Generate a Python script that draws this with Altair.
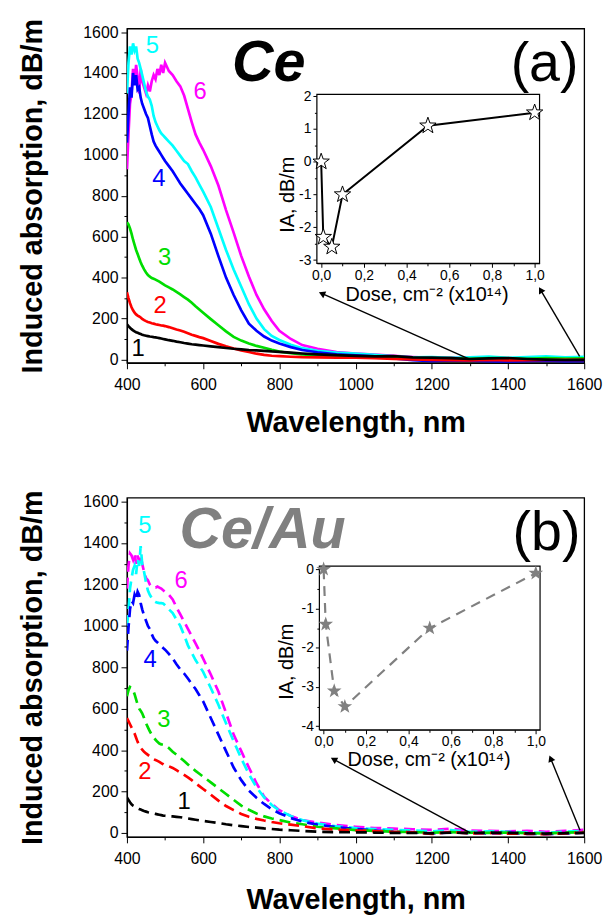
import math
import altair as alt
import pandas as pd

# ---------------- data ----------------
WL = [400, 404, 408, 412, 416, 420, 424, 428, 432, 436, 440,
      445, 450, 455, 460, 465, 470, 475, 480, 485, 490, 495, 500,
      510, 520, 530, 540, 550, 560, 570, 580, 590, 600,
      620, 640, 660, 680, 700, 720, 740, 760, 780, 800,
      830, 860, 900, 950,
      1000, 1050, 1100, 1150, 1200, 1250, 1300, 1350, 1400, 1450, 1500, 1550, 1600]

TOP_1 = [172, 163, 155, 148, 142, 137, 133, 130, 127, 124, 121,
         118, 116, 114, 112, 111, 109, 108, 106, 104, 102, 100, 98,
         94, 91, 87, 84, 80, 77, 74, 72, 70, 68,
         64, 60, 56, 52, 49, 46, 44, 42, 39, 37,
         33, 29, 25, 21,
         17, 15, 16, 10, 9, 6, 2, 5, 7, 2, -1, -3, -2]
TOP_2 = [328, 300, 275, 255, 240, 228, 220, 214, 210, 205, 198,
         192, 187, 183, 180, 177, 175, 172, 170, 168, 166, 165, 163,
         158, 152, 146, 141, 135, 128, 121, 115, 109, 104,
         90, 76, 64, 53, 44, 36, 28, 22, 18, 16,
         13, 11, 10, 9,
         8, 6, 3, 0, -3, -4, -5, -3, -5, -4, -3, -2, -2]
TOP_3 = [670, 660, 640, 615, 585, 560, 535, 515, 495, 475, 458,
         440, 425, 412, 405, 398, 394, 390, 385, 380, 374, 368, 362,
         352, 342, 330, 318, 305, 292, 277, 260, 244, 228,
         197, 167, 137, 110, 92, 78, 66, 57, 47, 38,
         30, 25, 20, 15,
         12, 9, 7, 5, 4, 6, 3, 7, 5, 3, 6, 4, 5]
TOP_4 = [1060, 1200, 1330, 1280, 1400, 1340, 1390, 1320, 1330, 1280, 1250,
         1225, 1200, 1180, 1140, 1100, 1065, 1045, 1030, 1015, 1000, 985, 970,
         945, 920, 890, 860, 835, 810, 785, 760, 735, 705,
         615, 505, 400, 315, 240, 175, 140, 112, 92, 78,
         60, 46, 35, 25,
         20, 15, 5, -4, -8, -5, -6, -10, -12, -8, -6, -10, -8]
TOP_5 = [1300, 1450, 1530, 1490, 1545, 1510, 1530, 1470, 1450, 1420, 1390,
         1350, 1310, 1285, 1270, 1240, 1190, 1160, 1140, 1120, 1105, 1095, 1085,
         1065, 1045, 1020, 995, 970, 955, 920, 890, 855, 820,
         745, 640, 535, 440, 355, 270, 200, 148, 115, 95,
         72, 55, 42, 33,
         28, 22, 15, 10, 12, 8, 10, 14, 8, 12, 15, 10, 13]
TOP_6 = [930, 1100, 1250, 1300, 1420, 1350, 1440, 1380, 1300, 1420, 1360,
         1330, 1300, 1340, 1310, 1360, 1390, 1370, 1420, 1390, 1440, 1400, 1450,
         1410, 1390, 1360, 1335, 1290, 1225, 1160, 1100, 1060, 1025,
         945, 850, 730, 620, 505, 405, 315, 245, 188, 140,
         100, 70, 52, 36,
         29, 24, 18, 12, 8, 9, 6, 8, 5, 4, 6, 8, 5]

BOT_1 = [172, 160, 148, 138, 132, 128, 124, 120, 116, 113, 110,
         106, 103, 100, 98, 96, 94, 92, 90, 88, 86, 84, 83,
         81, 80, 78, 76, 73, 70, 67, 64, 61, 58,
         53, 48, 42, 37, 33, 29, 26, 22, 19, 16,
         13, 10, 6, 4,
         3, 2, 0, 1, -2, 2, -1, 2, 0, -2, -3, -1, 0]
BOT_2 = [555, 540, 525, 510, 495, 480, 460, 440, 422, 412, 402,
         392, 384, 377, 370, 362, 356, 352, 348, 343, 337, 332, 326,
         322, 314, 303, 292, 280, 268, 255, 240, 226, 212,
         185, 156, 130, 110, 92, 78, 68, 60, 53, 47,
         40, 33, 22, 16,
         12, 9, 5, 3, -5, 5, -2, 0, -3, -4, -6, -2, 2]
BOT_3 = [660, 690, 705, 700, 690, 670, 645, 620, 600, 590, 578,
         555, 530, 510, 491, 475, 462, 450, 440, 432, 428, 427, 425,
         410, 392, 378, 363, 347, 331, 315, 300, 286, 272,
         244, 216, 188, 160, 132, 112, 94, 80, 70, 62,
         50, 42, 30, 22,
         14, 10, 6, 4, 1, 4, 2, 0, 2, -1, -3, 2, 4]
BOT_4 = [880, 990, 1080, 1120, 1110, 1150, 1130, 1165, 1150, 1110, 1080,
         1050, 1025, 1000, 985, 960, 940, 928, 920, 912, 902, 893, 885,
         865, 842, 815, 790, 770, 746, 720, 695, 665, 635,
         555, 475, 395, 316, 255, 205, 170, 140, 115, 95,
         72, 55, 40, 28,
         20, 12, 6, 3, -2, 3, 0, -3, 2, -4, -6, -2, 1]
BOT_5 = [1000, 1070, 1180, 1230, 1270, 1290, 1250, 1320, 1290, 1385, 1300,
         1260, 1210, 1170, 1150, 1135, 1120, 1115, 1112, 1110, 1110, 1108, 1100,
         1080, 1062, 1030, 1000, 955, 906, 870, 835, 806, 778,
         700, 619, 530, 443, 360, 284, 220, 172, 135, 108,
         82, 62, 45, 32,
         24, 19, 15, 12, 8, 14, 5, 8, 6, 2, 0, 6, 10]
BOT_6 = [1180, 1290, 1350, 1340, 1320, 1350, 1300, 1340, 1310, 1340, 1300,
         1260, 1230, 1220, 1200, 1190, 1185, 1185, 1190, 1185, 1180, 1172, 1165,
         1150, 1128, 1090, 1055, 1020, 986, 950, 915, 880, 842,
         765, 683, 580, 475, 395, 316, 240, 175, 140, 110,
         82, 62, 50, 38,
         30, 24, 21, 18, 15, 20, 12, 10, 8, 10, 6, 10, 15]

SERIES = ["1", "2", "3", "4", "5", "6"]
COLORS = ["#000000", "#ff0000", "#00dd00", "#0000ff", "#00ffff", "#ff00ff"]

TOP_LABEL_WL = [429, 487, 499, 484, 467, 592]
TOP_LABEL_V = [53, 262, 495, 884, 1534, 1306]
BOT_LABEL_WL = [550, 447, 497, 461, 447, 542]
BOT_LABEL_V = [148, 292, 547, 834, 1481, 1217]

DOSE = [0.0, 0.01, 0.05, 0.1, 0.5, 1.0]
IA_CE = [0.0, -2.3, -2.6, -1.0, 1.1, 1.5]
IA_CEAU = [0.0, -1.4, -3.1, -3.5, -1.5, -0.1]

TOP_ARROW_FROM_WL = [1300, 1588]
TOP_ARROW_FROM_V = [0, 15]
TOP_ARROW_TO_WL = [914, 1487]
TOP_ARROW_TO_V = [320, 335]
BOT_ARROW_FROM_WL = [1301, 1589]
BOT_ARROW_FROM_V = [0, 13]
BOT_ARROW_TO_WL = [945, 1513]
BOT_ARROW_TO_V = [353, 355]

FONT = "Liberation Sans"
W = 461


def star_path():
    pts = []
    for k in range(10):
        r = 1.0 if k % 2 == 0 else 0.40
        a = -math.pi / 2 + k * math.pi / 5
        pts.append(f"{r * math.cos(a):.3f},{r * math.sin(a):.3f}")
    return "M" + "L".join(pts) + "Z"


STAR = star_path()


def build_panel(series_vals, lab_wl, lab_v, title_txt, title_color, title_pos,
                letter, letter_pos, arrows, ia, H, ydom, dashed,
                ix_range, iy_range, ix_dom, iy_dom, iy_vals, iy_minor,
                star_filled, xt_pos, yt_pos, x_title_pad):
    rows = []
    for sid in ["6", "5", "4", "3", "2", "1"]:
        for w, v in zip(WL, series_vals[sid]):
            rows.append({"wl": w, "val": v, "s": sid})
    df = pd.DataFrame(rows)

    xs = alt.Scale(domain=[400, 1600], nice=False, zero=False)
    ys = alt.Scale(domain=ydom, nice=False, zero=False)

    x_axis = alt.Axis(orient="bottom", values=list(range(400, 1601, 200)), format="d",
                      labelFontSize=16, labelFont=FONT, labelColor="black", labelFlush=False,
                      tickSize=6, tickColor="black", domainColor="black", domainWidth=1.2,
                      labelPadding=8, grid=False, title="Wavelength, nm", titleFont=FONT,
                      titleFontSize=29, titleFontWeight="bold", titleColor="black",
                      titlePadding=x_title_pad)
    y_axis = alt.Axis(orient="left", values=list(range(0, 1601, 200)), format="d",
                      labelFontSize=16, labelFont=FONT, labelColor="black",
                      tickSize=6, tickColor="black", domainColor="black", domainWidth=1.2,
                      labelPadding=3, grid=False, title="Induced absorption, dB/m", titleFont=FONT,
                      titleFontSize=29, titleFontWeight="bold", titleColor="black", titlePadding=36)

    line_kw = dict(strokeWidth=2.7, clip=True)
    if dashed:
        line_kw["strokeDash"] = [11, 6]
    lines = alt.Chart(df).mark_line(**line_kw).encode(
        x=alt.X("wl:Q", scale=xs, axis=x_axis),
        y=alt.Y("val:Q", scale=ys, axis=y_axis),
        color=alt.Color("s:N", scale=alt.Scale(domain=SERIES, range=COLORS), legend=None),
    )

    minor = alt.Chart(pd.DataFrame({"wl": [1000], "val": [800]})).mark_point(opacity=0).encode(
        x=alt.X("wl:Q", scale=xs, axis=alt.Axis(orient="bottom", values=list(range(500, 1600, 200)),
                                                 labels=False, domain=False, tickSize=3, tickColor="black",
                                                 title=None, grid=False)),
        y=alt.Y("val:Q", scale=ys, axis=alt.Axis(orient="left", values=list(range(100, 1600, 200)),
                                                  labels=False, domain=False, tickSize=3, tickColor="black",
                                                  title=None, grid=False)),
    )

    lab_df = pd.DataFrame({"wl": lab_wl, "val": lab_v, "txt": SERIES, "col": COLORS})
    labels = alt.Chart(lab_df).mark_text(font=FONT, fontSize=24, align="center", baseline="middle").encode(
        x=alt.X("wl:Q", scale=xs, axis=None),
        y=alt.Y("val:Q", scale=ys, axis=None),
        text="txt:N",
        color=alt.Color("col:N", scale=None),
    )

    t_df = pd.DataFrame({"wl": [title_pos[0]], "val": [title_pos[1]], "txt": [title_txt]})
    ttl = alt.Chart(t_df).mark_text(font=FONT, fontSize=58, fontWeight="bold", fontStyle="italic",
                                    color=title_color, align="center", baseline="middle").encode(
        x=alt.X("wl:Q", scale=xs, axis=None), y=alt.Y("val:Q", scale=ys, axis=None), text="txt:N")

    l_df = pd.DataFrame({"wl": [letter_pos[0]], "val": [letter_pos[1]], "txt": [letter]})
    let = alt.Chart(l_df).mark_text(font=FONT, fontSize=56, color="black",
                                    align="center", baseline="middle").encode(
        x=alt.X("wl:Q", scale=xs, axis=None), y=alt.Y("val:Q", scale=ys, axis=None), text="txt:N")

    fw, fv, tw, tv = arrows
    sx = W / 1200.0
    sy = H / (ydom[1] - ydom[0])
    angs = []
    for a, b, c, d in zip(fw, fv, tw, tv):
        dx = (c - a) * sx
        dy = -(d - b) * sy
        angs.append(math.degrees(math.atan2(dx, -dy)) % 360)
    a_df = pd.DataFrame({"w0": fw, "v0": fv, "w1": tw, "v1": tv, "ang": angs})
    rules = alt.Chart(a_df).mark_rule(color="black", strokeWidth=1.4).encode(
        x=alt.X("w0:Q", scale=xs, axis=None), y=alt.Y("v0:Q", scale=ys, axis=None),
        x2="w1:Q", y2="v1:Q")
    heads = alt.Chart(a_df).mark_point(shape="triangle", filled=True, color="black", size=55, opacity=1).encode(
        x=alt.X("w1:Q", scale=xs, axis=None), y=alt.Y("v1:Q", scale=ys, axis=None),
        angle=alt.Angle("ang:Q", scale=None))

    # inset
    ixs = alt.Scale(domain=ix_dom, range=ix_range, nice=False, zero=False)
    iys = alt.Scale(domain=iy_dom, range=iy_range, nice=False, zero=False)
    x_off = iy_range[0] - H
    y_off = -ix_range[0]

    frame_df = pd.DataFrame({"x0": [ix_dom[0]], "x1": [ix_dom[1]], "y0": [iy_dom[0]], "y1": [iy_dom[1]]})
    frame = alt.Chart(frame_df).mark_rect(fill="white", stroke="black", strokeWidth=1.2).encode(
        x=alt.X("x0:Q", scale=ixs, axis=None), x2="x1:Q",
        y=alt.Y("y0:Q", scale=iys, axis=None), y2="y1:Q")

    ins_df = pd.DataFrame({"dose": DOSE, "ia": ia})
    ix_axis = alt.Axis(orient="bottom", offset=x_off, values=[0, 0.2, 0.4, 0.6, 0.8, 1.0],
                       labelExpr="replace(format(datum.value, '.1f'), '.', ',')",
                       labelFontSize=14, labelFont=FONT, labelColor="black", labelFlush=False,
                       labelPadding=1, tickSize=4, tickColor="black", domainColor="black",
                       grid=False, title="Dose, cm\u207b\u00b2 (x10\u00b9\u2074)", titleFont=FONT,
                       titleFontSize=20, titleFontWeight="normal", titleColor="black",
                       titleX=xt_pos[0], titleY=xt_pos[1], titleAlign="center", titleBaseline="middle",
                       titleAngle=0)
    iy_axis = alt.Axis(orient="left", offset=y_off, values=iy_vals, labelExpr="'' + datum.value",
                       labelFontSize=14, labelFont=FONT, labelColor="black",
                       labelPadding=2, tickSize=4, tickColor="black", domainColor="black",
                       grid=False, title="IA, dB/m", titleFont=FONT,
                       titleFontSize=20, titleFontWeight="normal", titleColor="black",
                       titleX=yt_pos[0], titleY=yt_pos[1], titleAlign="center", titleBaseline="middle",
                       titleAngle=270)
    if star_filled:
        iline = alt.Chart(ins_df).mark_line(color="#808080", strokeWidth=2.2, strokeDash=[10, 7])
        istar = alt.Chart(ins_df).mark_point(shape=STAR, filled=True, color="#808080", size=240, opacity=1)
    else:
        iline = alt.Chart(ins_df).mark_line(color="black", strokeWidth=2)
        istar = alt.Chart(ins_df).mark_point(shape=STAR, filled=True, fill="white", stroke="black",
                                             strokeWidth=1, size=300, opacity=1)
    iline = iline.encode(x=alt.X("dose:Q", scale=ixs, axis=ix_axis),
                         y=alt.Y("ia:Q", scale=iys, axis=iy_axis))
    istar = istar.encode(x=alt.X("dose:Q", scale=ixs, axis=None),
                         y=alt.Y("ia:Q", scale=iys, axis=None))

    iminor = alt.Chart(pd.DataFrame({"dose": [0.5], "ia": [iy_vals[0]]})).mark_point(opacity=0).encode(
        x=alt.X("dose:Q", scale=ixs, axis=alt.Axis(orient="bottom", offset=x_off,
                                                   values=[0.1, 0.3, 0.5, 0.7, 0.9], labels=False,
                                                   domain=False, tickSize=2.5, tickColor="black",
                                                   title=None, grid=False)),
        y=alt.Y("ia:Q", scale=iys, axis=alt.Axis(orient="left", offset=y_off, values=iy_minor,
                                                 labels=False, domain=False, tickSize=2.5,
                                                 tickColor="black", title=None, grid=False)),
    )

    return alt.layer(lines, minor, labels, ttl, let, rules, heads, frame, iline, istar, iminor).resolve_scale(
        x="independent", y="independent", color="independent").properties(width=W, height=H)


top = build_panel(
    {"1": TOP_1, "2": TOP_2, "3": TOP_3, "4": TOP_4, "5": TOP_5, "6": TOP_6},
    TOP_LABEL_WL, TOP_LABEL_V, "Ce", "black", (772, 1442), "(a)", (1496, 1442),
    (TOP_ARROW_FROM_WL, TOP_ARROW_FROM_V, TOP_ARROW_TO_WL, TOP_ARROW_TO_V),
    IA_CE, 337, [-16.5, 1617.5], False,
    [191.5, 416], [236.7, 66.3], [-0.02, 1.023], [-3.1, 2.06],
    [-3, -2, -1, 0, 1, 2], [-2.5, -1.5, -0.5, 0.5, 1.5],
    False, (302, 32), (-30, 167), 16)

bot = build_panel(
    {"1": BOT_1, "2": BOT_2, "3": BOT_3, "4": BOT_4, "5": BOT_5, "6": BOT_6},
    BOT_LABEL_WL, BOT_LABEL_V, "Ce/Au", "#808080", (756, 1456), "(b)", (1501, 1450),
    (BOT_ARROW_FROM_WL, BOT_ARROW_FROM_V, BOT_ARROW_TO_WL, BOT_ARROW_TO_V),
    IA_CEAU, 342, [-19, 1619], True,
    [194, 416.5], [234, 69], [-0.02, 1.02], [-4.09, 0.08],
    [-4, -3, -2, -1, 0], [-3.5, -2.5, -1.5, -0.5],
    True, (304, 30), (-33, 165), 19)

chart = alt.vconcat(top, bot, spacing=51).properties(
    padding={"left": 17, "top": 14, "right": 5, "bottom": 0}
).configure_view(stroke="black", strokeWidth=1.3)

chart.save("out.html", embed_options={"renderer": "svg", "actions": False})
